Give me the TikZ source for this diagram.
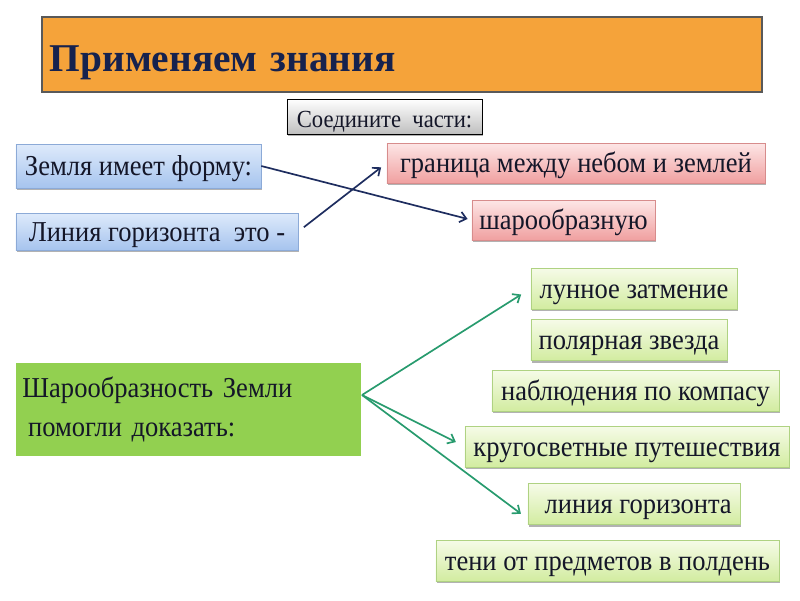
\documentclass[tikz,border=0pt]{standalone}
\usepackage{fontspec}
\setmainfont{Liberation Serif}
\newfontfamily\slimserif{Liberation Serif}[FakeStretch=0.92]
\usepackage{tikz}
\usetikzlibrary{arrows.meta,shadows}
\definecolor{titlefill}{RGB}{245,163,58}
\definecolor{titletext}{RGB}{22,34,78}
\definecolor{bluetop}{RGB}{222,234,251}
\definecolor{bluebot}{RGB}{166,196,238}
\definecolor{blueline}{RGB}{140,170,215}
\definecolor{pinktop}{RGB}{253,230,230}
\definecolor{pinkbot}{RGB}{240,160,160}
\definecolor{pinkline}{RGB}{215,140,140}
\definecolor{limetop}{RGB}{246,251,232}
\definecolor{limebot}{RGB}{210,236,160}
\definecolor{limeline}{RGB}{175,210,130}
\definecolor{grassfill}{RGB}{146,208,80}
\definecolor{navyarrow}{RGB}{30,45,95}
\definecolor{greenarrow}{RGB}{40,155,110}
\definecolor{inktext}{RGB}{20,22,40}
\newcommand{\boxfont}{\slimserif\fontsize{20.5}{24}\selectfont}

\begin{document}
\begin{tikzpicture}[x=0.025cm,y=-0.025cm,
	card/.style={inner sep=0pt,font=\boxfont,text=inktext,text height=15.5pt,text depth=2pt,
		drop shadow={shadow xshift=1pt,shadow yshift=-1.5pt,fill=black!60,opacity=.5}},
	bluebox/.style={card,draw=blueline,top color=bluetop,bottom color=bluebot},
	pinkbox/.style={card,draw=pinkline,top color=pinktop,bottom color=pinkbot},
	limebox/.style={card,draw=limeline,top color=limetop,bottom color=limebot,minimum height=1.025cm},
	hintbox/.style={card,draw=black,top color=white,bottom color=black!25,
		font=\slimserif\fontsize{17.5}{20}\selectfont,text height=16pt,text depth=1pt},
	link/.style={-{Straight Barb[length=4.5pt,width=7.5pt]},line width=1.2pt}]
	\useasboundingbox (0,0) rectangle (800,600);
	\node[draw=black!65,line width=1pt,fill=titlefill,minimum height=1.875cm,text width=17.6cm,
		inner xsep=0.2cm,align=left,text=titletext,text height=30pt,text depth=6pt,
		font=\fontsize{28}{34}\selectfont\bfseries]
		(title) at (402,54.5) {Применяем знания};
	\node[hintbox,minimum width=4.875cm,minimum height=0.875cm] (hint) at (384.5,116.5) {Соедините\ \ части:};
	\node[bluebox,minimum width=6.125cm,minimum height=1.1cm] (zemlya) at (138.5,166) {Земля имеет форму:};
	\node[bluebox,minimum width=7.05cm,minimum height=0.925cm] (liniya) at (157,231.5) {Линия горизонта\ \ это -};
	\node[pinkbox,minimum width=9.45cm,minimum height=1cm] (granica) at (576,163) {граница между небом и землей};
	\node[pinkbox,minimum width=4.575cm,minimum height=1cm] (shar) at (563.5,220) {шарообразную};
	\node[inner sep=0pt,fill=grassfill,minimum width=8.625cm,minimum height=2.325cm,text width=8.3cm,
		align=left,text=inktext,font=\slimserif\fontsize{20.5}{27.7}\selectfont] (dokaz) at (188.5,409.5)
		{Шарообразность Земли\\\hspace{4pt}помогли доказать:\\[4pt]};
	\node[limebox,minimum width=5.15cm] (lunnoe) at (634,288.5) {лунное затмение};
	\node[limebox,minimum width=4.9cm] (polyar) at (629,340) {полярная звезда};
	\node[limebox,minimum width=7.175cm] (kompas) at (635.5,390.5) {наблюдения по компасу};
	\node[limebox,minimum width=8.1cm] (krugo) at (627,446.5) {кругосветные путешествия};
	\node[limebox,minimum width=5.3cm] (gorizont) at (634,504) {\hspace{6pt}линия горизонта};
	\node[limebox,minimum width=8.575cm] (teni) at (607.5,560.5) {тени от предметов в полдень};
	\coordinate (fork) at (362,395);
	\path[link,navyarrow]
		(zemlya.east) edge[shorten >=3pt] (shar.west)
		(liniya.east) edge[shorten <=5pt,shorten >=5pt] (granica.west);
	\path[link,greenarrow]
		(fork) edge[shorten >=8pt] (lunnoe.west)
		(fork) edge[shorten >=7pt] (krugo.west)
		(fork) edge[shorten >=6pt] ([yshift=-10.5pt]gorizont.west);
\end{tikzpicture}
\end{document}
